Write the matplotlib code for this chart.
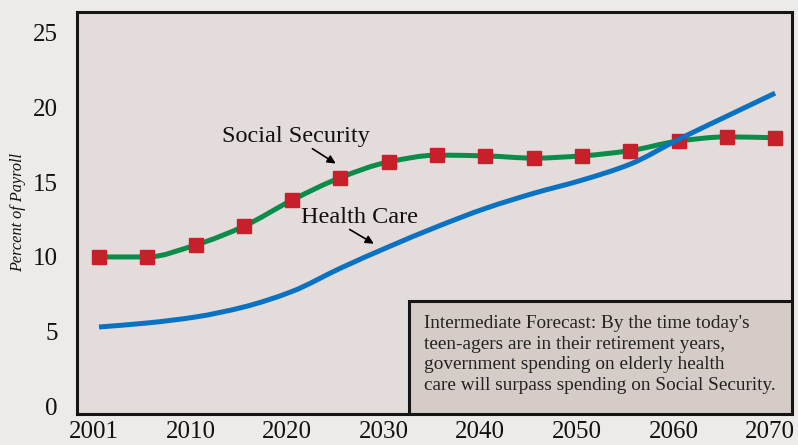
import matplotlib
matplotlib.use("Agg")
import matplotlib.pyplot as plt
from matplotlib.patches import Rectangle, PathPatch
from matplotlib.path import Path
from matplotlib.transforms import ScaledTranslation

years = [2001, 2005, 2010, 2015, 2020, 2025, 2030, 2035, 2040, 2045, 2050, 2055, 2060, 2065, 2070]
social_security = [10.0, 10.0, 10.8, 12.05, 13.8, 15.3, 16.35, 16.8, 16.75, 16.6, 16.75, 17.1, 17.74, 18.02, 17.96]
health_care = [5.32, 5.59, 5.99, 6.66, 7.7, 9.25, 10.68, 12.02, 13.24, 14.25, 15.13, 16.2, 17.85, 19.4, 20.94]
tick_labels = ["2001", "2010", "2020", "2030", "2040", "2050", "2060", "2070"]
y_ticks = [0, 5, 10, 15, 20, 25]
note = ("Intermediate Forecast: By the time today's\n"
        "teen-agers are in their retirement years,\n"
        "government spending on elderly health\n"
        "care will surpass spending on Social Security.")

plt.rcParams['font.family'] = ['Liberation Serif', 'DejaVu Serif']


def smooth_path(xs, ys):
    """Monotone (PCHIP-style) curve through the data points, as cubic Bezier segments."""
    n = len(xs)
    d = [(ys[i + 1] - ys[i]) / (xs[i + 1] - xs[i]) for i in range(n - 1)]
    m = [0.0] * n
    m[0], m[-1] = d[0], d[-1]
    for i in range(1, n - 1):
        if d[i - 1] * d[i] <= 0:
            m[i] = 0.0
        else:
            m[i] = 2 * d[i - 1] * d[i] / (d[i - 1] + d[i])
    verts = [(xs[0], ys[0])]
    codes = [Path.MOVETO]
    for i in range(n - 1):
        h = xs[i + 1] - xs[i]
        verts += [(xs[i] + h / 3, ys[i] + m[i] * h / 3),
                  (xs[i + 1] - h / 3, ys[i + 1] - m[i + 1] * h / 3),
                  (xs[i + 1], ys[i + 1])]
        codes += [Path.CURVE4] * 3
    return Path(verts, codes)


fig = plt.figure(figsize=(7.98, 4.45), dpi=100, facecolor='#EDEAE7')
ax = fig.add_axes([77/798, 1-414/445, 715/798, 402/445])
ax.set_facecolor('#E3DCDA')

x = list(range(len(years)))
ax.add_patch(PathPatch(smooth_path(x, social_security), facecolor='none',
                       edgecolor='#0A8C4A', lw=3.6, capstyle='butt', zorder=3))
ax.plot(x, social_security, ls='none', marker='s', ms=9.5, color='#C8202B', zorder=4)
ax.add_patch(PathPatch(smooth_path(x, health_care), facecolor='none',
                       edgecolor='#0A72C2', lw=3.6, capstyle='butt', zorder=5))

ax.set_xlim(-0.456, 14.35)
ax.set_ylim(-0.49, 26.36)
ax.set_xticks(x[::2])
ax.set_xticklabels(tick_labels)
ax.set_yticks(y_ticks)
ax.tick_params(length=0, labelsize=18, colors='#111111')
ax.tick_params(axis='x', pad=5)
ax.tick_params(axis='y', pad=14)
shift = ScaledTranslation(-5/100, 0, fig.dpi_scale_trans)
for lab in ax.get_xticklabels():
    lab.set_transform(lab.get_transform() + shift)
for s in ax.spines.values():
    s.set_linewidth(2.2)
    s.set_color('#151515')

fig.text(18/798, 1-213/445, 'Percent of Payroll', rotation=90, style='italic',
         fontsize=11.7, ha='center', va='center', color='#111111')

ax.annotate('', xy=(4.95, 16.14), xytext=(4.37, 17.33),
            arrowprops=dict(arrowstyle='-|>', color='black', lw=1.2, mutation_scale=12), zorder=6)
ax.text(2.55, 17.7, 'Social Security', fontsize=17.5, ha='left', va='baseline', color='#111111')
ax.annotate('', xy=(5.74, 10.79), xytext=(5.14, 11.93),
            arrowprops=dict(arrowstyle='-|>', color='black', lw=1.2, mutation_scale=12), zorder=6)
ax.text(4.18, 12.26, 'Health Care', fontsize=17.5, ha='left', va='baseline', color='#111111')

box = Rectangle(((409-77)/715, 0), 1-(409-77)/715, (414-301)/402, transform=ax.transAxes,
                facecolor='#D5CCC7', edgecolor='#151515', lw=2.2, zorder=7)
ax.add_patch(box)
ax.text((424-77)/715, (414-315)/402, note, transform=ax.transAxes, fontsize=13.9,
        ha='left', va='top', linespacing=1.27, color='#222222', zorder=8)

fig.savefig('out.png', dpi=100, facecolor=fig.get_facecolor())
